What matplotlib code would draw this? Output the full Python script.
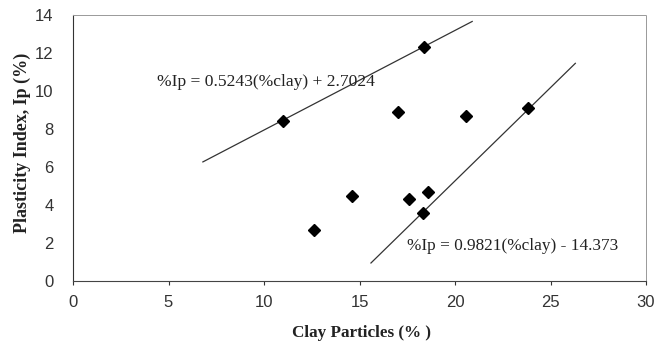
import matplotlib
matplotlib.use("Agg")
import matplotlib.pyplot as plt
import numpy as np

clay = [11.0, 12.6, 14.6, 17.0, 17.6, 18.4, 18.3, 18.6, 20.6, 23.8]
ip = [8.4, 2.7, 4.5, 8.9, 4.3, 12.3, 3.6, 4.7, 8.7, 9.1]

fit1 = (0.5243, 2.7024)
fit1_range = [6.8, 20.9]
fit2 = (0.9821, -14.373)
fit2_range = [15.6, 26.3]

eq1 = "%Ip = 0.5243(%clay) + 2.7024"
eq2 = "%Ip = 0.9821(%clay) - 14.373"

xticks = [0, 5, 10, 15, 20, 25, 30]
yticks = [0, 2, 4, 6, 8, 10, 12, 14]

fig = plt.figure(figsize=(6.57, 3.48), dpi=100)
ax = fig.add_axes([73/657, 1-281/348, (646-73)/657, (281-15)/348])

for (m, b), r in [(fit1, fit1_range), (fit2, fit2_range)]:
    xs = np.array(r)
    ax.plot(xs, m*xs + b, color="#333333", lw=0.9)

ax.plot(clay, ip, linestyle="none", marker="D", color="black", markersize=6)

ax.text(4.4, 10.47, eq1, family="Liberation Serif", fontsize=12.6, va="center", ha="left", color="#222222")
ax.text(17.5, 1.86, eq2, family="Liberation Serif", fontsize=12.4, va="center", ha="left", color="#222222")

ax.set_xlim(0, 30)
ax.set_ylim(0, 14)
ax.set_xticks(xticks)
ax.set_yticks(yticks)
ax.tick_params(axis="both", labelsize=12, colors="#333333", length=3, width=0.8)
for lbl in ax.get_xticklabels() + ax.get_yticklabels():
    lbl.set_family("Liberation Sans")
ax.tick_params(axis="x", pad=7)
ax.tick_params(axis="y", pad=14, length=0)

ax.spines["left"].set_color("#333333")
ax.spines["bottom"].set_color("#444444")
for s in ["top", "right"]:
    ax.spines[s].set_color("#999999")
    ax.spines[s].set_linestyle((0, (1, 1)))
    ax.spines[s].set_linewidth(0.7)

fig.text(361/657, 1-333/348, "Clay Particles (% )", family="Liberation Serif", fontweight="bold",
         fontsize=12.3, ha="center", va="center", color="#222222")
fig.text(22/657, 1-233/348, "Plasticity Index, Ip (%)", family="Liberation Serif", fontweight="bold",
         fontsize=13, ha="center", va="bottom", rotation=90, color="#222222")

fig.savefig("out.png", dpi=100)
